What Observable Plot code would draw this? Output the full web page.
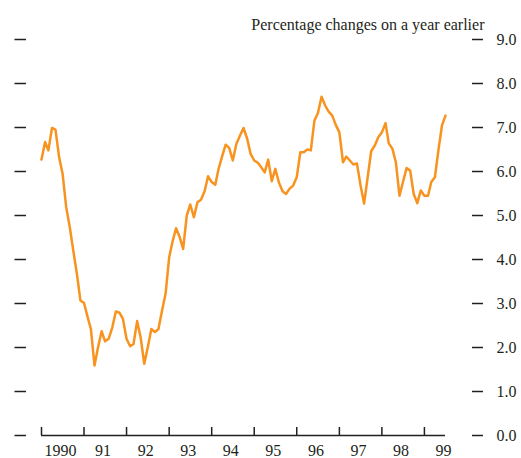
<!DOCTYPE html>
<html><head><meta charset="utf-8">
<script src="https://cdn.jsdelivr.net/npm/d3@7"></script>
<script src="https://cdn.jsdelivr.net/npm/@observablehq/plot@0.6"></script>
<style>html,body{margin:0;padding:0;background:#fff}</style>
</head><body><div id="chart"></div>
<script>
// Monthly series, Jan 1990 onward (percentage change on a year earlier)
const startYear = 1990;
const values = [
  6.27, 6.67, 6.48, 6.99, 6.95, 6.33, 5.95, 5.19, 4.73, 4.20, 3.67, 3.07,
  3.01, 2.69, 2.42, 1.59, 2.00, 2.37, 2.14, 2.20, 2.46, 2.82, 2.79, 2.65,
  2.20, 2.03, 2.08, 2.60, 2.23, 1.63, 2.00, 2.42, 2.35, 2.42, 2.84, 3.22,
  4.05, 4.43, 4.71, 4.51, 4.24, 5.00, 5.25, 4.96, 5.30, 5.36, 5.55, 5.89,
  5.76, 5.70, 6.06, 6.35, 6.61, 6.53, 6.25, 6.63, 6.82, 6.99, 6.75, 6.40,
  6.25, 6.20, 6.10, 5.98, 6.27, 5.78, 6.06, 5.75, 5.55, 5.49, 5.61, 5.68,
  5.87, 6.44, 6.44, 6.50, 6.48, 7.16, 7.33, 7.70, 7.50, 7.36, 7.27, 7.06,
  6.89, 6.21, 6.34, 6.25, 6.16, 6.18, 5.70, 5.27, 5.87, 6.46, 6.59, 6.78,
  6.89, 7.10, 6.64, 6.52, 6.21, 5.45, 5.76, 6.08, 6.02, 5.49, 5.28, 5.57,
  5.45, 5.45, 5.76, 5.87, 6.48, 7.05, 7.27
];
const yTicks = [0, 1, 2, 3, 4, 5, 6, 7, 8, 9];
const years = [1990, 1991, 1992, 1993, 1994, 1995, 1996, 1997, 1998, 1999];
const yearLabels = ["1990", "91", "92", "93", "94", "95", "96", "97", "98", "99"];
const title = "Percentage changes on a year earlier";

const data = values.map((v, i) => ({date: new Date(Date.UTC(startYear, i, 1)), value: v}));
const yearStarts = years.map(y => new Date(Date.UTC(y, 0, 1)));
const midYears = years.map(y => new Date(Date.UTC(y, 6, 1)));
const ink = "#231f20";

const chart = Plot.plot({
  width: 521,
  height: 458,
  marginLeft: 41,
  marginRight: 76,
  marginTop: 39,
  marginBottom: 23,
  style: {fontFamily: '"Liberation Serif", "Times New Roman", serif', fontSize: "16px", color: ink, background: "#fff"},
  x: {type: "utc", domain: [new Date(Date.UTC(1990, 0, 1)), new Date(Date.UTC(1999, 6, 1))], label: null},
  y: {domain: [0, 9], label: null},
  marks: [
    Plot.axisY(yTicks, {anchor: "right", dx: 26, tickSize: 11, tickPadding: 14, tickFormat: d => d.toFixed(1), strokeWidth: 1.5, label: null}),
    Plot.axisY(yTicks, {anchor: "left", dx: -15, tickSize: 11.5, tickFormat: () => "", strokeWidth: 1.5, label: null}),
    Plot.ruleY([0], {stroke: ink, strokeWidth: 1.5}),
    Plot.axisX(yearStarts, {anchor: "bottom", tickSize: -8, tickFormat: () => "", strokeWidth: 1.5, label: null}),
    Plot.axisX(midYears, {anchor: "bottom", tickSize: 0, tickPadding: 9, tickFormat: (d, i) => yearLabels[i], dx: -2, label: null}),
    Plot.line(data, {x: "date", y: "value", stroke: "#f7931e", strokeWidth: 2.5}),
    Plot.text([title], {text: d => d, frameAnchor: "top-right", dx: 39, dy: -21, textAnchor: "end", fontSize: 16, fill: ink})
  ]
});
document.getElementById("chart").appendChild(chart);
</script>
</body></html>
